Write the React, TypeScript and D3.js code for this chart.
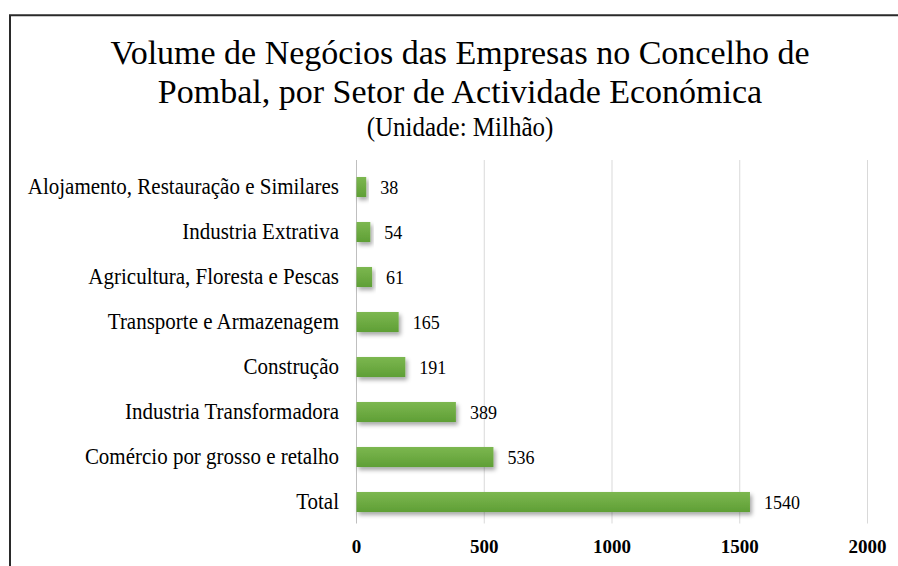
import React from "react";
import * as d3 from "d3";

const categories = [
  "Alojamento, Restauração e Similares",
  "Industria Extrativa",
  "Agricultura, Floresta e Pescas",
  "Transporte e Armazenagem",
  "Construção",
  "Industria Transformadora",
  "Comércio por grosso e retalho",
  "Total",
];
const values = [38, 54, 61, 165, 191, 389, 536, 1540];
const ticks = [0, 500, 1000, 1500, 2000];
const titleLines = [
  "Volume de Negócios das Empresas no Concelho de",
  "Pombal, por Setor de Actividade Económica",
];
const subtitle = "(Unidade: Milhão)";

const W = 898;
const H = 566;
const FONT = "'Liberation Serif', 'Times New Roman', serif";

function SText(props: {
  x: number;
  y: number;
  sy?: number;
  anchor?: string;
  size: number;
  weight?: string;
  children: React.ReactNode;
}) {
  const { x, y, sy = 1, anchor = "start", size, weight = "normal", children } = props;
  return (
    <text
      transform={`translate(${x},${y}) scale(1,${sy})`}
      textAnchor={anchor}
      fontFamily={FONT}
      fontSize={size}
      fontWeight={weight}
      fill="#000"
    >
      {children}
    </text>
  );
}

export default function App() {
  const x = d3.scaleLinear().domain([0, 2000]).range([356.5, 867.5]);
  const y = d3
    .scaleBand<string>()
    .domain(categories)
    .range([164.5, 524.5])
    .paddingInner(0.555)
    .paddingOuter(0.2775);
  const bh = y.bandwidth();
  return (
    <svg
      width={W}
      height={H}
      style={{ position: "absolute", left: 0, top: 0, background: "#fff" }}
    >
      <defs>
        <linearGradient id="barGrad" x1="0" y1="0" x2="0" y2="1">
          <stop offset="0%" stopColor="#7cb750" />
          <stop offset="100%" stopColor="#5f9f35" />
        </linearGradient>
        <filter id="shadow" x="-10%" y="-30%" width="130%" height="190%">
          <feDropShadow dx="2" dy="3" stdDeviation="2" floodColor="#000" floodOpacity="0.35" />
        </filter>
      </defs>
      <rect x={0} y={0} width={W} height={H} fill="#fff" />
      {/* frame */}
      <path d={`M10,${H} L10,15.3 L${W},15.3`} fill="none" stroke="#2a2a2a" strokeWidth={2} />
      {/* title */}
      {titleLines.map((t, i) => (
        <SText key={i} x={460} y={64 + i * 39} anchor="middle" size={34}>
          {t}
        </SText>
      ))}
      <SText x={460} y={136} anchor="middle" size={25} sy={1.08}>
        {subtitle}
      </SText>
      {/* grid */}
      {ticks.map((t) => (
        <line
          key={t}
          x1={x(t)}
          x2={x(t)}
          y1={160}
          y2={523.5}
          stroke={t === 0 ? "#bfbfbf" : "#d9d9d9"}
          strokeWidth={1}
        />
      ))}
      {ticks.map((t) => (
        <SText key={"l" + t} x={x(t)} y={553} anchor="middle" size={19} weight="bold">
          {t}
        </SText>
      ))}
      {/* bars */}
      {categories.map((c, i) => {
        const yy = y(c) as number;
        return (
          <g key={c}>
            <rect
              x={x(0)}
              y={yy}
              width={x(values[i]) - x(0)}
              height={bh}
              fill="url(#barGrad)"
              filter="url(#shadow)"
            />
            <SText x={x(values[i]) + 14} y={yy + bh / 2 + 7} size={18}>
              {values[i]}
            </SText>
            <SText x={339} y={yy + bh / 2 + 6.5} anchor="end" size={21} sy={1.08}>
              {c}
            </SText>
          </g>
        );
      })}
    </svg>
  );
}
